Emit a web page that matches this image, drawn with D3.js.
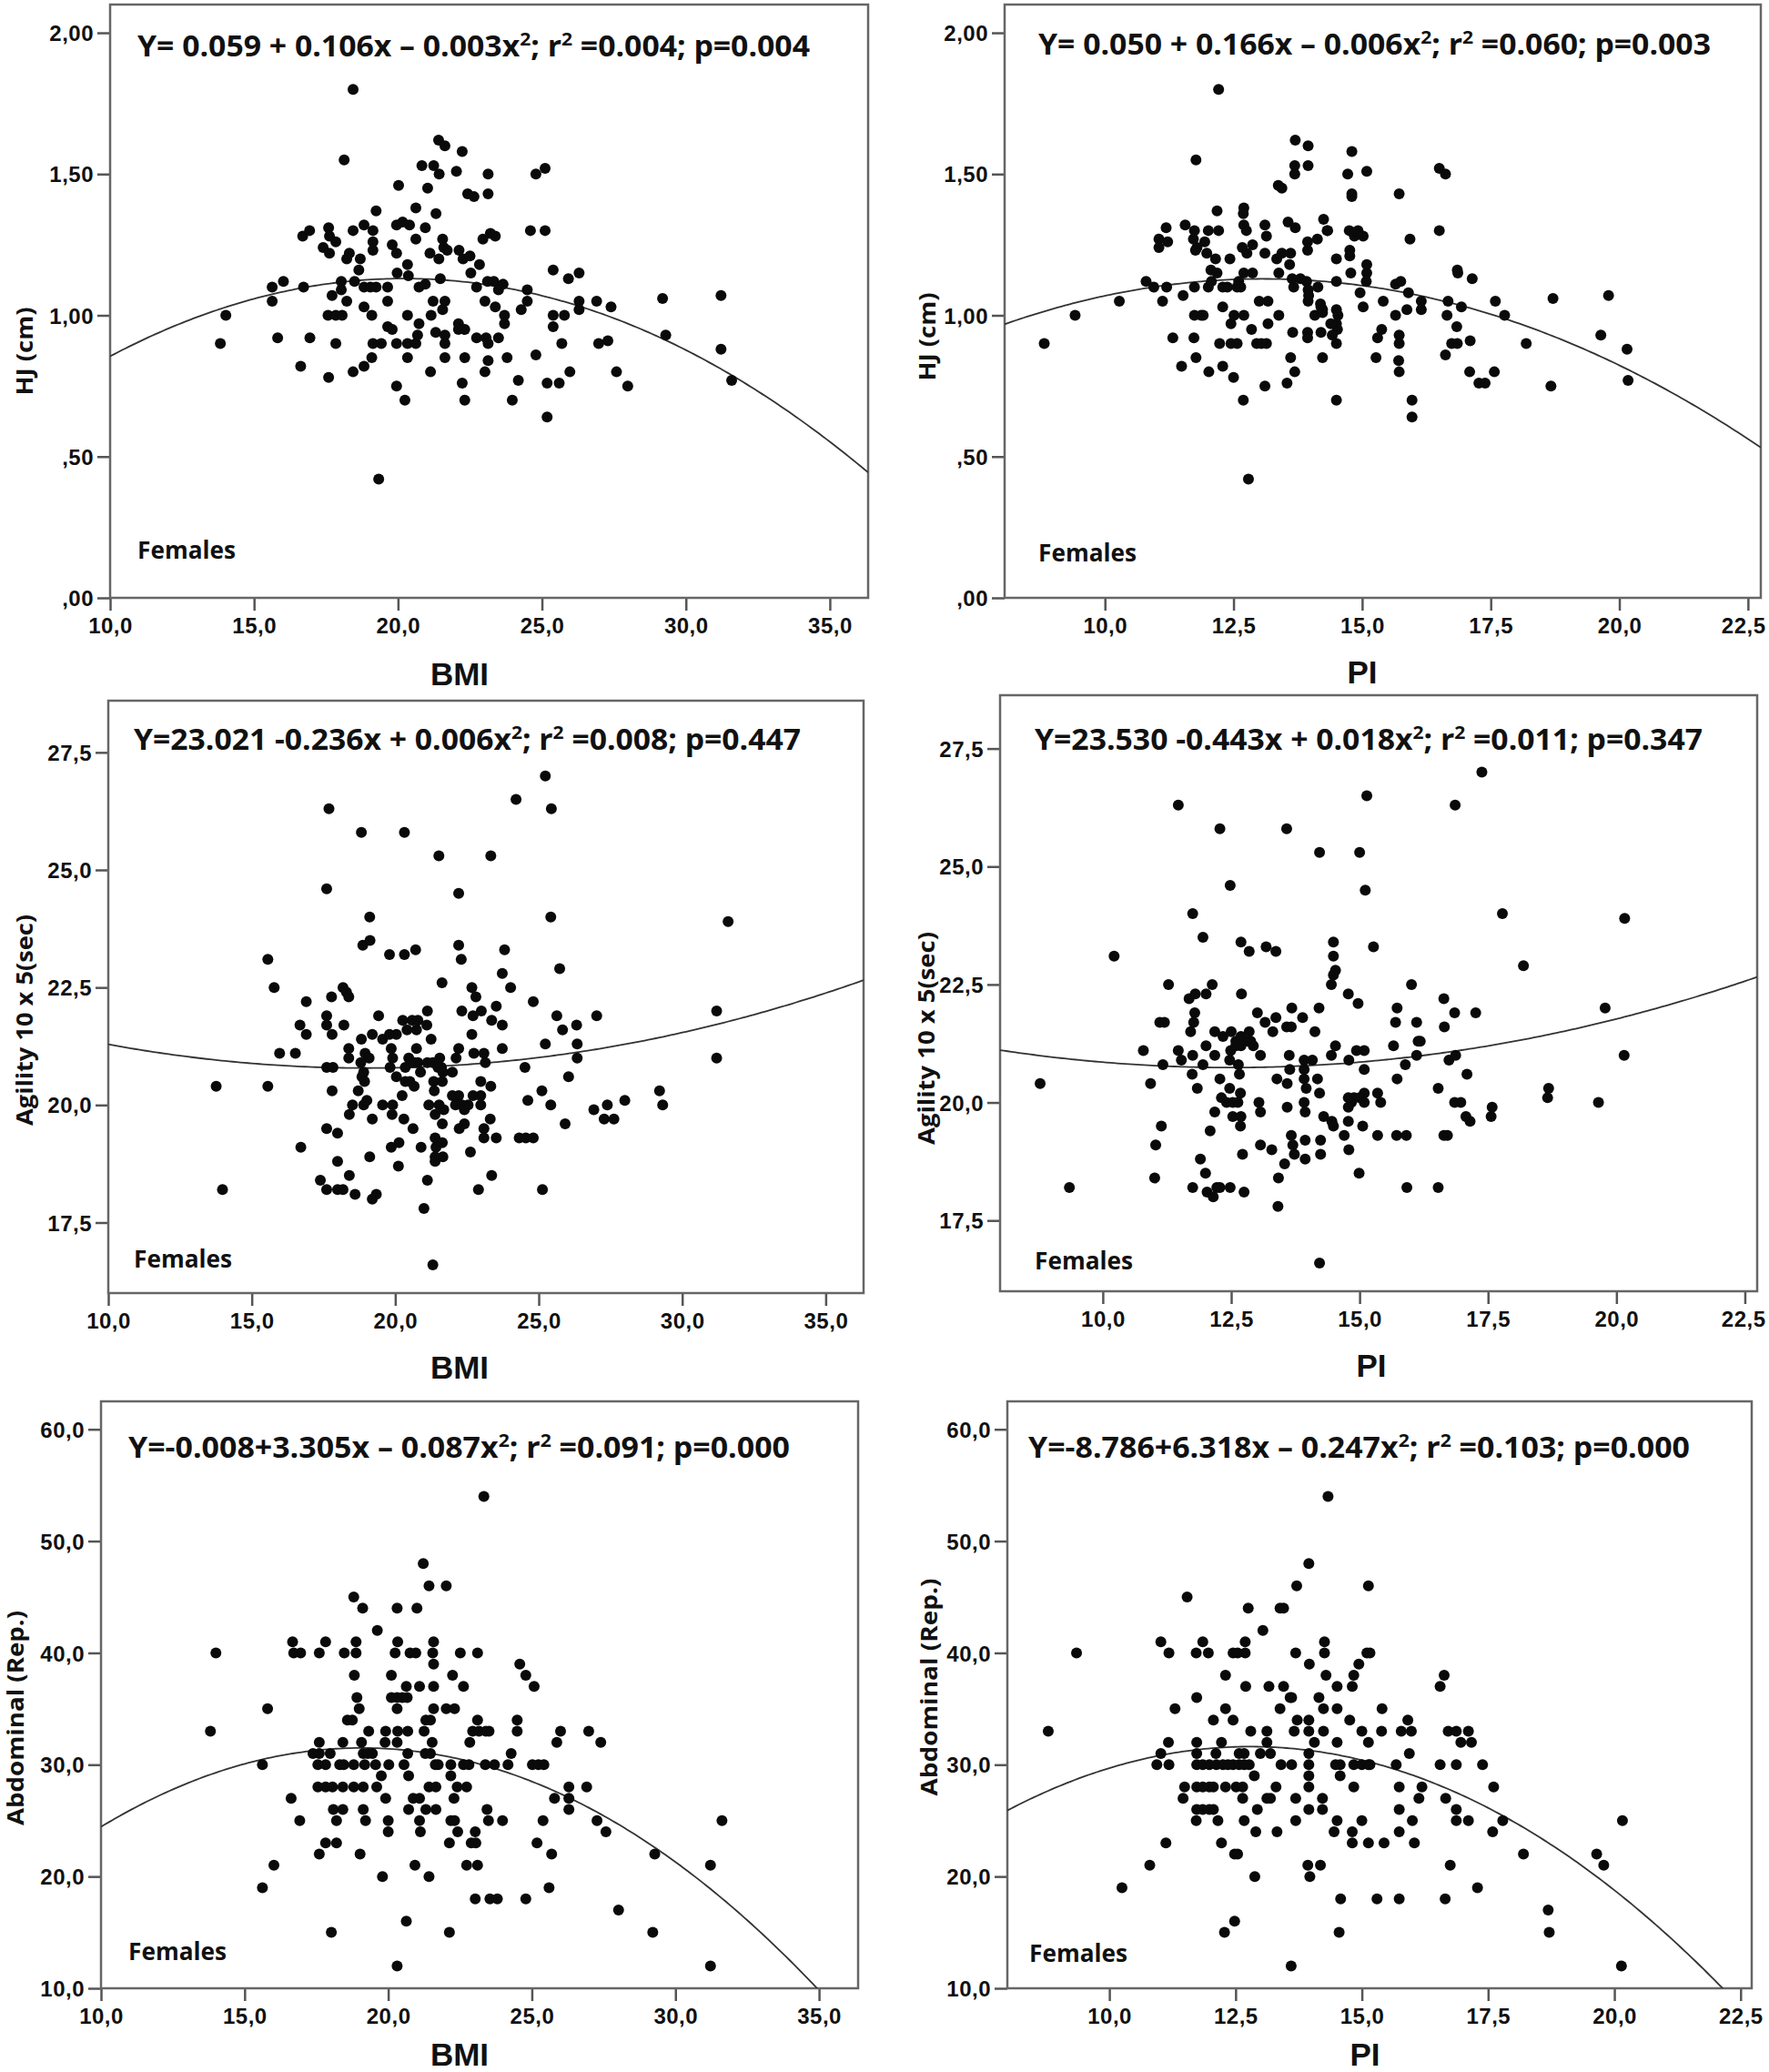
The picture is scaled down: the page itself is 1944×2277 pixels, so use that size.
<!DOCTYPE html>
<html>
<head>
<meta charset="utf-8">
<script src="https://cdn.jsdelivr.net/npm/d3@7"></script>
<style>
body { margin: 0; background: #fff; }
svg { display: block; }
</style>
</head>
<body>
<svg width="1944" height="2277"></svg>
<script>
// ---- tick values and labels ----
var hjTicks = [0, 0.5, 1, 1.5, 2];
var hjTickLabels = [',00', ',50', '1,00', '1,50', '2,00'];
var agTicks = [17.5, 20, 22.5, 25, 27.5];
var agTickLabels = ['17,5', '20,0', '22,5', '25,0', '27,5'];
var abTicks = [10, 20, 30, 40, 50, 60];
var abTickLabels = ['10,0', '20,0', '30,0', '40,0', '50,0', '60,0'];
var bmiTicks = [10, 15, 20, 25, 30, 35];
var bmiTickLabels = ['10,0', '15,0', '20,0', '25,0', '30,0', '35,0'];
var piTicks = [10, 12.5, 15, 17.5, 20, 22.5];
var piTickLabels = ['10,0', '12,5', '15,0', '17,5', '20,0', '22,5'];

// ---- fitted quadratic curves as drawn (a, b, c) ----
var fitHjBmi = [0.052, 0.1067, -0.00264];
var fitHjPi = [0.041, 0.1665, -0.00637];
var fitAgBmi = [23.034, -0.2367, 0.00623];
var fitAgPi = [23.594, -0.4568, 0.01828];
var fitAbBmi = [0.342, 3.2655, -0.08557];
var fitAbPi = [-8.786, 6.318, -0.247];

// ---- equation labels ----
var eqHjBmi = 'Y= 0.059 + 0.106x – 0.003x²; r² =0.004; p=0.004';
var eqHjPi = 'Y= 0.050 + 0.166x – 0.006x²; r² =0.060; p=0.003';
var eqAgBmi = 'Y=23.021 -0.236x + 0.006x²; r² =0.008; p=0.447';
var eqAgPi = 'Y=23.530 -0.443x + 0.018x²; r² =0.011; p=0.347';
var eqAbBmi = 'Y=-0.008+3.305x – 0.087x²; r² =0.091; p=0.000';
var eqAbPi = 'Y=-8.786+6.318x – 0.247x²; r² =0.103; p=0.000';

// ---- scatter data [x, y] ----
var hjBmi = [[18.44,1.80],[18.13,1.55],[21.41,1.62],[21.63,1.60],[22.23,1.58],[20.83,1.53],[21.24,1.53],[21.43,1.50],[22.03,1.51],[23.13,1.50],[23.13,1.43],[20.02,1.46],[21.03,1.45],[22.42,1.43],[22.64,1.42],[19.24,1.37],[20.62,1.38],[21.32,1.36],[16.69,1.28],[16.93,1.30],[17.59,1.31],[17.62,1.28],[17.84,1.26],[18.44,1.30],[18.82,1.32],[19.13,1.30],[19.13,1.26],[19.13,1.23],[19.95,1.32],[20.16,1.33],[20.40,1.32],[20.62,1.27],[20.95,1.31],[21.55,1.27],[21.59,1.24],[17.40,1.24],[17.62,1.22],[18.31,1.22],[18.22,1.20],[18.69,1.20],[19.80,1.25],[19.95,1.22],[21.11,1.22],[21.42,1.20],[21.71,1.23],[22.12,1.23],[22.26,1.20],[22.50,1.21],[22.95,1.27],[23.21,1.29],[18.64,1.16],[20.33,1.18],[19.97,1.15],[20.36,1.14],[22.53,1.15],[22.83,1.18],[23.11,1.12],[16.02,1.12],[15.63,1.10],[16.72,1.10],[18.03,1.12],[18.03,1.09],[18.49,1.12],[18.82,1.10],[19.04,1.10],[19.24,1.10],[19.64,1.10],[20.73,1.10],[20.95,1.11],[21.47,1.13],[22.73,1.10],[15.63,1.05],[17.71,1.07],[18.22,1.05],[19.64,1.05],[21.22,1.05],[21.63,1.05],[23.02,1.05],[14.02,1.00],[17.57,1.00],[17.84,1.00],[18.06,1.00],[18.82,1.03],[19.09,1.00],[20.33,1.00],[21.15,1.00],[21.55,1.02],[13.83,0.90],[15.82,0.92],[16.94,0.92],[17.84,0.90],[19.13,0.90],[19.42,0.90],[19.95,0.90],[19.64,0.96],[19.80,0.95],[20.33,0.90],[20.62,0.90],[20.68,0.93],[20.73,0.97],[21.31,0.94],[21.63,0.93],[21.63,0.90],[22.10,0.97],[22.10,0.95],[22.32,0.95],[22.73,0.92],[23.06,0.92],[23.13,0.90],[16.62,0.82],[19.09,0.85],[20.33,0.85],[21.63,0.85],[22.32,0.85],[23.13,0.84],[17.59,0.78],[18.44,0.80],[18.82,0.82],[21.13,0.80],[23.02,0.80],[19.95,0.75],[20.24,0.70],[22.23,0.76],[22.32,0.70],[19.33,0.42],
  [24.79,1.50],[25.11,1.52],[24.60,1.30],[25.11,1.30],[23.38,1.28],[23.33,1.12],[23.65,1.11],[23.49,1.09],[24.49,1.09],[24.49,1.05],[23.38,1.03],[23.70,1.00],[23.70,0.97],[24.28,1.02],[25.39,1.16],[25.92,1.13],[26.29,1.15],[26.29,1.05],[26.29,1.02],[26.90,1.05],[27.40,1.03],[25.39,1.00],[25.78,1.00],[25.39,0.96],[23.49,0.92],[23.79,0.85],[24.79,0.86],[25.69,0.90],[26.97,0.90],[27.29,0.91],[24.18,0.77],[25.18,0.76],[25.60,0.76],[25.97,0.80],[27.59,0.80],[27.98,0.75],[23.97,0.70],[25.18,0.64],[29.19,1.06],[29.30,0.93],[31.22,1.07],[31.22,0.88],[31.59,0.77]];

var hjPi = [[8.82,0.90],[9.42,1.00],[10.28,1.05],[12.21,1.80],[11.77,1.55],[13.70,1.62],[13.95,1.60],[13.69,1.53],[13.69,1.50],[13.95,1.53],[13.37,1.46],[13.44,1.45],[14.80,1.58],[14.72,1.50],[15.09,1.51],[14.80,1.43],[14.80,1.42],[12.18,1.37],[12.70,1.38],[12.69,1.36],[12.70,1.32],[12.75,1.30],[13.11,1.32],[13.56,1.33],[13.70,1.31],[14.25,1.34],[14.33,1.30],[14.75,1.30],[14.85,1.28],[15.72,1.43],[15.93,1.27],[11.05,1.27],[11.19,1.31],[11.05,1.24],[11.22,1.26],[11.56,1.32],[11.74,1.30],[11.72,1.27],[11.79,1.24],[11.76,1.23],[12.01,1.30],[12.21,1.30],[11.94,1.26],[11.98,1.22],[12.67,1.24],[12.76,1.22],[12.87,1.25],[13.14,1.28],[13.11,1.22],[13.34,1.20],[13.44,1.22],[13.61,1.22],[13.59,1.18],[13.94,1.26],[13.94,1.23],[14.13,1.27],[14.32,1.30],[12.15,1.20],[12.43,1.20],[12.06,1.16],[12.18,1.15],[13.38,1.15],[12.70,1.15],[12.87,1.15],[14.50,1.20],[14.76,1.23],[14.76,1.21],[14.78,1.15],[14.92,1.30],[15.02,1.28],[15.09,1.18],[15.09,1.15],[15.08,1.12],[15.65,1.11],[15.75,1.12],[10.80,1.12],[10.95,1.10],[11.20,1.10],[11.12,1.05],[11.52,1.07],[11.74,1.10],[12.01,1.10],[12.07,1.12],[12.29,1.10],[12.38,1.10],[12.57,1.10],[12.60,1.12],[12.64,1.10],[13.64,1.13],[13.67,1.10],[13.80,1.13],[13.92,1.12],[13.95,1.09],[13.96,1.07],[13.95,1.05],[14.14,1.10],[14.19,1.04],[14.23,1.02],[14.50,1.12],[14.96,1.08],[15.02,1.03],[15.41,1.05],[13.00,1.05],[13.17,1.05],[11.74,1.00],[11.87,1.00],[11.91,1.00],[12.29,1.03],[12.45,0.97],[12.51,1.00],[12.70,1.00],[13.38,1.00],[14.08,1.00],[14.20,1.03],[14.23,1.01],[14.50,1.02],[14.53,1.00],[14.50,0.97],[14.52,0.95],[15.65,1.00],[15.87,1.02],[13.17,0.97],[12.85,0.95],[13.65,0.94],[13.94,0.94],[13.94,0.92],[14.20,0.94],[14.39,0.97],[14.42,0.93],[14.50,0.90],[15.38,0.95],[15.30,0.92],[15.72,0.93],[15.72,0.90],[11.32,0.92],[11.73,0.92],[12.23,0.90],[12.45,0.90],[12.57,0.90],[12.95,0.90],[13.04,0.90],[13.14,0.90],[15.27,0.85],[11.77,0.85],[13.61,0.85],[14.23,0.85],[15.71,0.84],[11.49,0.82],[12.29,0.82],[12.02,0.80],[13.69,0.80],[15.72,0.80],[12.50,0.78],[13.11,0.75],[13.54,0.76],[12.69,0.70],[14.50,0.70],[15.97,0.70],[15.97,0.64],[12.79,0.42],
  [16.50,1.52],[16.62,1.50],[16.50,1.30],[16.85,1.16],[16.86,1.15],[17.14,1.13],[15.90,1.08],[16.15,1.05],[16.15,1.02],[16.67,1.05],[16.93,1.03],[17.59,1.05],[17.77,1.00],[16.65,1.00],[16.84,0.96],[16.74,0.90],[16.85,0.90],[17.10,0.91],[16.62,0.86],[17.09,0.80],[17.27,0.76],[17.39,0.76],[17.57,0.80],[18.19,0.90],[18.71,1.06],[18.67,0.75],[19.64,0.93],[19.79,1.07],[20.15,0.88],[20.17,0.77]];

var agBmi = [[17.69,26.3],[18.82,25.8],[20.32,25.8],[21.52,25.3],[23.33,25.3],[17.61,24.6],[22.21,24.5],[19.11,24.0],[18.87,23.4],[19.12,23.5],[19.80,23.2],[20.32,23.2],[20.71,23.3],[22.21,23.4],[22.30,23.1],[15.56,23.1],[15.78,22.5],[16.90,22.2],[17.78,22.3],[18.18,22.5],[18.30,22.4],[18.38,22.3],[21.63,22.6],[22.67,22.5],[22.81,22.3],[22.32,22.0],[22.71,21.9],[23.00,22.0],[21.12,22.0],[19.42,21.9],[17.61,21.9],[17.61,21.7],[18.21,21.7],[16.68,21.7],[16.90,21.5],[17.80,21.5],[19.20,21.5],[18.82,21.4],[18.38,21.2],[18.38,21.0],[18.95,21.1],[19.09,21.0],[19.56,21.4],[19.80,21.5],[20.04,21.5],[19.86,21.2],[19.91,21.0],[20.26,21.8],[20.41,21.6],[20.59,21.8],[20.74,21.6],[20.79,21.8],[21.10,21.7],[21.25,21.4],[20.74,21.2],[20.47,21.0],[20.68,20.9],[21.55,21.0],[21.61,20.8],[22.21,21.2],[22.12,21.0],[22.67,21.5],[22.74,21.1],[23.09,21.1],[23.14,20.9],[23.36,21.8],[15.97,21.1],[16.52,21.1],[17.61,20.8],[17.83,20.8],[18.80,20.9],[18.90,20.7],[19.82,20.8],[20.04,20.6],[20.35,20.8],[20.57,20.9],[20.79,20.9],[20.88,20.7],[21.12,20.9],[21.31,20.9],[21.49,20.8],[21.66,20.7],[21.99,20.7],[22.98,20.5],[23.33,20.4],[18.84,20.6],[18.93,20.5],[18.71,20.3],[20.35,20.5],[20.51,20.5],[20.66,20.4],[20.24,20.2],[21.34,20.5],[21.36,20.3],[21.64,20.5],[13.76,20.4],[15.56,20.4],[17.80,20.3],[18.51,20.0],[18.40,19.8],[18.90,20.0],[19.01,20.1],[19.56,20.0],[19.91,20.0],[19.89,19.8],[21.17,20.0],[21.53,20.0],[21.39,19.8],[21.69,19.9],[21.99,20.2],[22.21,20.2],[22.10,20.0],[22.32,20.0],[22.41,19.9],[22.54,20.0],[22.71,20.2],[22.98,20.2],[22.98,20.0],[23.31,19.7],[19.20,19.7],[20.30,19.7],[20.62,19.5],[17.61,19.5],[17.99,19.4],[21.64,19.6],[22.23,19.5],[22.41,19.6],[23.09,19.5],[23.09,19.3],[21.39,19.3],[21.64,19.2],[21.42,19.1],[16.71,19.1],[19.86,19.1],[20.13,19.2],[20.90,19.1],[21.39,18.9],[21.66,18.9],[21.39,18.8],[22.62,19.0],[19.11,18.9],[17.99,18.8],[20.11,18.7],[18.40,18.5],[21.12,18.4],[17.39,18.4],[17.61,18.2],[17.99,18.2],[18.18,18.2],[18.60,18.1],[19.20,18.0],[19.34,18.1],[21.00,17.8],[22.90,18.2],[23.36,18.5],[13.98,18.2],[21.31,16.6],
  [25.23,27.0],[24.21,26.5],[25.44,26.3],[25.42,24.0],[31.60,23.9],[23.81,23.3],[23.73,22.8],[24.02,22.5],[25.73,22.9],[24.81,22.2],[23.52,22.1],[23.73,21.7],[25.63,21.9],[25.83,21.6],[26.32,21.7],[27.02,21.9],[23.73,21.2],[25.23,21.3],[26.34,21.3],[26.34,21.0],[24.52,20.8],[26.04,20.6],[31.20,22.0],[31.20,21.0],[25.11,20.3],[24.62,20.1],[25.42,20.0],[26.92,19.9],[27.39,20.0],[27.28,19.7],[27.62,19.7],[28.00,20.1],[29.21,20.3],[29.32,20.0],[25.92,19.6],[23.52,19.3],[24.32,19.3],[24.55,19.3],[24.81,19.3],[25.13,18.2]];

var agPi = [[11.47,26.3],[12.28,25.8],[13.58,25.8],[14.22,25.3],[15.00,25.3],[15.14,26.5],[12.48,24.6],[15.11,24.5],[11.75,24.0],[11.95,23.5],[10.22,23.1],[12.69,23.4],[12.85,23.2],[13.18,23.3],[13.37,23.2],[14.49,23.4],[14.49,23.1],[14.53,22.8],[14.49,22.7],[14.45,22.5],[15.27,23.3],[11.28,22.5],[12.13,22.5],[11.68,22.2],[11.80,22.3],[12.01,22.3],[12.70,22.3],[14.78,22.3],[14.97,22.1],[16.01,22.5],[11.79,21.9],[11.77,21.7],[11.71,21.5],[11.11,21.7],[11.20,21.7],[13.01,21.9],[13.16,21.7],[13.31,21.5],[13.37,21.8],[13.68,22.0],[13.89,21.8],[13.58,21.6],[13.67,21.6],[14.21,22.0],[14.13,21.5],[15.73,22.0],[15.70,21.7],[16.11,21.7],[10.79,21.1],[11.47,21.1],[11.53,20.9],[11.75,21.0],[12.01,21.2],[12.18,21.5],[12.34,21.4],[12.18,21.0],[12.50,21.5],[12.59,21.3],[12.69,21.4],[12.82,21.3],[12.49,21.1],[12.59,21.2],[12.69,21.2],[12.47,20.9],[12.64,20.8],[12.66,20.6],[12.85,21.5],[12.88,21.3],[12.93,21.2],[13.07,21.0],[11.17,20.8],[11.74,20.6],[11.95,20.8],[13.63,21.0],[13.64,20.7],[13.92,20.9],[14.08,20.9],[13.92,20.7],[13.92,20.5],[13.96,20.3],[14.18,20.5],[14.22,20.2],[14.45,21.0],[14.53,21.2],[14.79,20.9],[14.94,21.1],[15.09,21.1],[15.09,20.7],[15.66,21.2],[15.73,20.5],[15.89,20.8],[16.14,21.3],[16.11,21.0],[10.93,20.4],[11.84,20.3],[12.28,20.5],[12.47,20.3],[13.39,20.5],[13.59,20.4],[12.31,20.1],[12.41,20.0],[12.53,20.0],[12.63,20.0],[12.68,20.2],[13.04,20.0],[13.07,19.8],[13.59,19.9],[13.92,20.0],[13.94,19.8],[14.78,20.1],[14.84,20.0],[14.89,20.1],[15.00,20.1],[14.78,19.9],[15.09,20.2],[15.09,20.0],[15.35,20.2],[15.41,20.0],[12.18,19.8],[12.53,19.7],[12.69,19.7],[12.68,19.5],[14.30,19.7],[14.46,19.6],[14.49,19.5],[14.78,19.6],[15.06,19.5],[11.14,19.5],[12.09,19.4],[11.03,19.1],[13.07,19.1],[13.29,19.0],[13.67,19.3],[13.70,19.1],[13.73,18.9],[13.94,19.2],[14.24,19.2],[14.24,18.9],[14.70,19.3],[14.79,19.0],[15.35,19.3],[15.72,19.3],[15.91,19.3],[12.72,18.9],[11.90,18.8],[13.94,18.8],[13.54,18.7],[12.00,18.5],[11.01,18.4],[13.42,18.4],[14.99,18.5],[11.75,18.2],[12.22,18.2],[12.28,18.2],[12.48,18.2],[12.03,18.1],[12.15,18.0],[12.75,18.1],[15.92,18.2],[13.41,17.8],[9.35,18.2],[8.78,20.4],[14.22,16.6],
  [17.38,27.0],[16.86,26.3],[17.78,24.0],[20.16,23.9],[18.19,22.9],[16.64,22.2],[16.85,21.9],[17.26,21.9],[16.65,21.6],[16.18,21.3],[16.74,20.9],[16.87,21.0],[19.78,22.0],[20.15,21.0],[17.09,20.6],[16.53,20.3],[16.85,20.0],[16.97,20.0],[17.07,19.7],[17.15,19.6],[17.58,19.9],[17.56,19.7],[18.68,20.3],[18.66,20.1],[19.65,20.0],[16.64,19.3],[16.71,19.3],[16.53,18.2]];

var abBmi = [[23.33,54],[21.22,48],[21.42,46],[22.02,46],[18.80,45],[19.11,44],[20.31,44],[21.00,44],[19.62,42],[16.67,41],[16.71,40],[16.95,40],[17.82,41],[17.60,40],[18.47,40],[18.88,41],[18.88,40],[20.33,41],[20.24,40],[20.76,40],[20.96,40],[21.58,41],[21.55,40],[21.58,39],[22.51,40],[23.11,40],[18.82,38],[20.11,38],[22.24,38],[22.62,37],[20.63,37],[21.09,37],[21.58,37],[18.91,36],[20.11,36],[20.31,36],[20.49,36],[20.66,36],[15.80,35],[18.99,35],[20.31,35],[21.58,35],[22.02,35],[22.31,35],[18.58,34],[18.75,34],[21.31,34],[21.47,34],[23.11,34],[13.81,33],[19.32,33],[19.91,33],[20.33,33],[20.68,33],[21.25,33],[22.94,33],[23.16,33],[23.51,33],[17.60,32],[18.42,32],[19.07,32],[19.13,31],[19.89,32],[20.31,32],[21.53,32],[22.84,32],[17.38,31],[17.60,31],[17.98,31],[19.29,31],[19.45,31],[20.68,31],[21.29,31],[21.47,31],[15.62,30],[17.55,30],[17.82,30],[18.31,30],[18.45,30],[18.80,30],[19.18,30],[19.56,30],[20.02,30],[20.55,30],[21.64,30],[21.74,30],[22.18,30],[22.62,30],[22.81,30],[23.38,30],[19.76,29],[20.71,29],[22.18,29],[17.55,28],[17.82,28],[18.06,28],[18.42,28],[18.80,28],[19.13,28],[19.60,28],[21.42,28],[21.66,28],[22.40,28],[22.73,28],[16.62,27],[19.91,27],[20.87,27],[21.09,27],[22.29,27],[18.09,26],[18.42,26],[19.13,26],[20.71,26],[21.31,26],[21.66,26],[23.44,26],[16.92,25],[18.20,25],[19.21,25],[20.00,25],[21.09,25],[22.18,25],[22.31,25],[23.49,25],[20.00,24],[21.12,24],[22.42,24],[23.03,24],[17.60,22],[17.82,23],[18.20,23],[19.02,22],[22.13,23],[22.89,23],[23.05,23],[20.93,21],[22.73,21],[23.11,21],[16.02,21],[15.62,19],[19.80,20],[21.42,20],[23.03,18],[23.54,18],[18.02,15],[22.13,15],[20.63,16],[20.31,12],[14.00,40],
  [24.58,39],[24.79,38],[25.08,37],[24.49,34],[24.49,33],[23.40,33],[24.28,31],[23.70,30],[24.17,30],[25.02,30],[25.23,30],[25.42,30],[26.00,33],[25.87,32],[26.98,33],[27.40,32],[26.29,28],[26.91,28],[25.79,27],[26.29,27],[26.29,26],[23.98,25],[25.39,25],[27.27,25],[27.58,24],[25.18,23],[25.69,22],[29.28,22],[31.22,21],[31.62,25],[23.80,18],[24.79,18],[25.60,19],[28.02,17],[29.21,15],[31.22,12]];

var abPi = [[14.33,54],[13.95,48],[13.71,46],[15.13,46],[11.54,45],[12.75,44],[13.38,44],[13.45,44],[13.04,42],[11.02,41],[11.18,40],[11.72,40],[11.85,41],[11.96,40],[12.69,41],[12.45,40],[12.54,40],[12.69,40],[13.69,40],[14.26,41],[14.26,40],[13.96,39],[15.10,40],[15.16,40],[14.94,39],[12.30,38],[14.29,38],[14.84,38],[12.70,37],[13.16,37],[13.45,37],[14.51,37],[14.81,37],[11.73,36],[13.58,36],[13.61,36],[14.15,36],[11.30,35],[12.30,35],[13.38,35],[14.24,35],[14.51,35],[15.40,35],[12.06,34],[12.45,34],[13.72,34],[13.95,34],[14.76,34],[15.91,34],[12.80,33],[13.12,33],[13.66,33],[13.95,33],[14.24,33],[15.00,33],[15.39,33],[15.78,33],[15.98,33],[11.17,32],[11.73,32],[12.22,32],[13.12,32],[14.06,32],[14.51,32],[15.13,32],[11.02,31],[11.73,31],[12.11,31],[12.57,31],[12.67,31],[12.99,31],[13.19,31],[13.95,31],[15.94,31],[10.94,30],[11.18,30],[11.73,30],[11.85,30],[11.98,30],[12.12,30],[12.25,30],[12.35,30],[12.45,30],[12.57,30],[12.67,30],[12.77,30],[13.40,30],[13.61,30],[13.95,30],[14.48,30],[14.57,30],[14.84,30],[15.00,30],[15.13,30],[15.16,30],[15.68,30],[12.87,29],[13.95,29],[14.57,29],[11.49,28],[11.73,28],[11.85,28],[11.98,28],[12.06,28],[12.30,28],[12.51,28],[12.64,28],[13.30,28],[13.95,28],[14.84,28],[15.74,28],[11.46,27],[12.64,27],[13.12,27],[13.19,27],[13.69,27],[14.22,27],[16.13,27],[11.73,26],[11.85,26],[11.98,26],[12.06,26],[12.93,26],[13.95,26],[14.22,26],[15.74,26],[11.72,25],[12.15,25],[12.67,25],[13.69,25],[14.51,25],[15.00,25],[16.00,25],[12.90,24],[13.32,24],[14.45,24],[14.81,24],[15.74,24],[11.12,23],[12.22,23],[14.81,23],[15.13,23],[15.44,23],[16.04,23],[10.80,21],[13.93,21],[14.18,21],[12.48,22],[12.54,22],[10.25,19],[12.88,20],[13.97,20],[14.58,18],[15.30,18],[15.74,18],[12.48,16],[12.28,15],[14.55,15],[13.60,12],[8.79,33],[9.35,40],
  [16.63,38],[16.55,37],[16.71,33],[16.87,33],[17.11,33],[16.96,32],[17.17,32],[16.55,30],[16.87,30],[17.39,30],[16.19,28],[16.66,27],[17.61,28],[16.87,26],[16.87,25],[17.11,25],[17.79,25],[17.59,24],[16.75,21],[18.20,22],[19.65,22],[19.79,21],[20.16,25],[17.29,19],[16.65,18],[18.69,17],[18.71,15],[20.14,12]];

// ---- layout ----
var svg = d3.select('svg');
svg.append('rect').attr('width', 1944).attr('height', 2277).attr('fill', '#fff');

var panels = [
  {id: 'a', data: hjBmi, fit: fitHjBmi, eq: eqHjBmi,
   x0: 121, x1: 954, y0: 5, y1: 657, xd: [10, 36.33], yd: [0, 2.1],
   xt: bmiTicks, xl: bmiTickLabels, yt: hjTicks, yl: hjTickLabels,
   xTitle: 'BMI', xtx: 505, xty: 753, yTitle: 'HJ (cm)', ytx: 36, yty: 386, ytLen: 97,
   eqx: 151, eqy: 62, eqLen: 739, fx: 151, fy: 614},
  {id: 'b', data: hjPi, fit: fitHjPi, eq: eqHjPi,
   x0: 1104, x1: 1935, y0: 5, y1: 657, xd: [8.05, 22.75], yd: [0, 2.1],
   xt: piTicks, xl: piTickLabels, yt: hjTicks, yl: hjTickLabels,
   xTitle: 'PI', xtx: 1497, xty: 751, yTitle: 'HJ (cm)', ytx: 1028, yty: 370, ytLen: 97,
   eqx: 1141, eqy: 60, eqLen: 739, fx: 1141, fy: 617},
  {id: 'c', data: agBmi, fit: fitAgBmi, eq: eqAgBmi,
   x0: 119, x1: 949, y0: 770, y1: 1421, xd: [10, 36.32], yd: [16.0, 28.6],
   xt: bmiTicks, xl: bmiTickLabels, yt: agTicks, yl: agTickLabels,
   xTitle: 'BMI', xtx: 505, xty: 1515, yTitle: 'Agility 10 x 5(sec)', ytx: 36, yty: 1121, ytLen: 232,
   eqx: 147, eqy: 824, eqLen: 733, fx: 147, fy: 1393},
  {id: 'd', data: agPi, fit: fitAgPi, eq: eqAgPi,
   x0: 1099, x1: 1931, y0: 764, y1: 1419, xd: [8.0, 22.74], yd: [16.0, 28.63],
   xt: piTicks, xl: piTickLabels, yt: agTicks, yl: agTickLabels,
   xTitle: 'PI', xtx: 1507, xty: 1513, yTitle: 'Agility 10 x 5(sec)', ytx: 1027, yty: 1141, ytLen: 234,
   eqx: 1137, eqy: 824, eqLen: 734, fx: 1137, fy: 1395},
  {id: 'e', data: abBmi, fit: fitAbBmi, eq: eqAbBmi,
   x0: 111, x1: 943, y0: 1540, y1: 2185, xd: [10, 36.36], yd: [10, 62.5],
   xt: bmiTicks, xl: bmiTickLabels, yt: abTicks, yl: abTickLabels,
   xTitle: 'BMI', xtx: 505, xty: 2270, yTitle: 'Abdominal (Rep.)', ytx: 26, yty: 1888, ytLen: 236,
   eqx: 141, eqy: 1602, eqLen: 727, fx: 141, fy: 2154},
  {id: 'f', data: abPi, fit: fitAbPi, eq: eqAbPi,
   x0: 1107, x1: 1925, y0: 1540, y1: 2185, xd: [7.98, 22.72], yd: [10, 62.5],
   xt: piTicks, xl: piTickLabels, yt: abTicks, yl: abTickLabels,
   xTitle: 'PI', xtx: 1500, xty: 2270, yTitle: 'Abdominal (Rep.)', ytx: 1030, yty: 1854, ytLen: 239,
   eqx: 1130, eqy: 1602, eqLen: 727, fx: 1131, fy: 2156}
];

panels.forEach(drawPanel);

function drawPanel(p) {
  var x = d3.scaleLinear().domain(p.xd).range([p.x0, p.x1]);
  var y = d3.scaleLinear().domain(p.yd).range([p.y1, p.y0]);
  var g = svg.append('g');

  g.append('clipPath').attr('id', 'clip-' + p.id)
    .append('rect')
    .attr('x', p.x0).attr('y', p.y0)
    .attr('width', p.x1 - p.x0).attr('height', p.y1 - p.y0);

  // axes
  var ax = g.append('g')
    .attr('transform', 'translate(0,' + p.y1 + ')')
    .call(d3.axisBottom(x).tickValues(p.xt)
      .tickFormat(function(d, i){ return p.xl[i]; })
      .tickSize(14).tickPadding(8));
  var ay = g.append('g')
    .attr('transform', 'translate(' + p.x0 + ',0)')
    .call(d3.axisLeft(y).tickValues(p.yt)
      .tickFormat(function(d, i){ return p.yl[i]; })
      .tickSize(14).tickPadding(4));
  [ax, ay].forEach(function(a){
    a.select('.domain').remove();
    a.selectAll('line').attr('stroke', '#555').attr('stroke-width', 2.5);
    a.selectAll('text')
      .attr('fill', '#111')
      .style('font-family', '"Liberation Sans", Arial, sans-serif')
      .style('font-weight', 'bold')
      .style('font-size', '24px')
      .style('letter-spacing', '0.5px');
  });
  ay.selectAll('text').attr('dy', '0.36em');

  // keep the last x tick label inside the page
  ax.selectAll('.tick').each(function(d){
    var t = d3.select(this).select('text');
    var w = t.node().getComputedTextLength();
    var over = x(d) + w / 2 - 1940;
    if (over > 0) t.attr('dx', -over);
  });

  // frame
  g.append('rect')
    .attr('x', p.x0).attr('y', p.y0)
    .attr('width', p.x1 - p.x0).attr('height', p.y1 - p.y0)
    .attr('fill', 'none').attr('stroke', '#666').attr('stroke-width', 2.5);

  // fitted curve
  var xs = d3.range(0, 201).map(function(i){
    return p.xd[0] + (p.xd[1] - p.xd[0]) * i / 200;
  });
  var line = d3.line()
    .x(function(d){ return x(d); })
    .y(function(d){ return y(p.fit[0] + p.fit[1] * d + p.fit[2] * d * d); });
  g.append('path')
    .datum(xs)
    .attr('d', line)
    .attr('clip-path', 'url(#clip-' + p.id + ')')
    .attr('fill', 'none')
    .attr('stroke', '#333')
    .attr('stroke-width', 1.8);

  // points
  g.selectAll('circle.pt')
    .data(p.data)
    .enter()
    .append('circle')
    .attr('class', 'pt')
    .attr('cx', function(d){ return x(d[0]); })
    .attr('cy', function(d){ return y(d[1]); })
    .attr('r', 6)
    .attr('fill', '#0a0a0a');

  // equation
  var eq = g.append('text')
    .attr('x', p.eqx).attr('y', p.eqy)
    .attr('textLength', p.eqLen)
    .attr('lengthAdjust', 'spacingAndGlyphs')
    .style('font-family', '"Open Sans", "Noto Sans", sans-serif')
    .style('font-weight', 'bold')
    .style('font-size', '32px')
    .attr('fill', '#111');
  var parts = p.eq.split('²');
  parts.forEach(function(s, i){
    var t = eq.append('tspan').text(s);
    if (i > 0) t.attr('dy', 12);
    if (i < parts.length - 1) {
      eq.append('tspan').text('2')
        .attr('dy', -12).style('font-size', '20px');
    }
  });

  // Females label
  g.append('text')
    .attr('x', p.fx).attr('y', p.fy)
    .attr('textLength', 108)
    .attr('lengthAdjust', 'spacingAndGlyphs')
    .text('Females')
    .style('font-family', '"Open Sans", "Noto Sans", sans-serif')
    .style('font-weight', 'bold')
    .style('font-size', '26px')
    .attr('fill', '#111');

  // x title
  g.append('text')
    .attr('x', p.xtx).attr('y', p.xty)
    .attr('text-anchor', 'middle')
    .text(p.xTitle)
    .style('font-family', '"Liberation Sans", Arial, sans-serif')
    .style('font-weight', 'bold')
    .style('font-size', '35px')
    .attr('fill', '#111');

  // y title
  g.append('text')
    .attr('transform', 'translate(' + p.ytx + ',' + p.yty + ')rotate(-90)')
    .attr('text-anchor', 'middle')
    .attr('textLength', p.ytLen)
    .attr('lengthAdjust', 'spacingAndGlyphs')
    .text(p.yTitle)
    .style('font-family', '"Open Sans", "Noto Sans", sans-serif')
    .style('font-weight', 'bold')
    .style('font-size', '25px')
    .attr('fill', '#111');
}
</script>
</body>
</html>
